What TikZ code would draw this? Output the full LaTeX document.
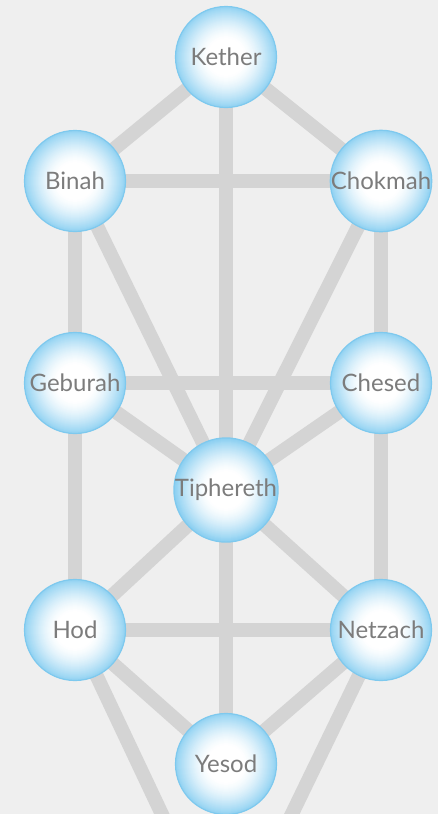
\documentclass[tikz,border=0pt]{standalone}
\usepackage{fontspec}
\setmainfont{Lato}
\usetikzlibrary{backgrounds}
\definecolor{bg}{HTML}{EFEFEF}
\definecolor{path}{HTML}{D4D4D4}
\definecolor{edgeblue}{HTML}{8ACFF1}
\definecolor{rimblue}{HTML}{7EC9EE}
\definecolor{txt}{HTML}{7C7C7C}
\tikzset{
  sephira/.style={circle, minimum size=101pt, inner sep=0pt, draw=rimblue, line width=1.2pt,
    text=txt, font=\fontsize{24}{24}\selectfont,
    path picture={
      \foreach \r in {52,51,...,18}{
        \pgfmathtruncatemacro\p{100*((\r-18)/34)^1.5}
        \fill[edgeblue!\p!white] (path picture bounding box.center) circle (\r pt);
      }
      \fill[white] (path picture bounding box.center) circle (18pt);
    }},
  pathline/.style={draw=path, line width=14pt}
}
\begin{document}
\begin{tikzpicture}[x=1pt,y=-1pt]
\useasboundingbox (0,0) rectangle (438,814);
\clip (0,0) rectangle (438,814);
\node[sephira] (kether) at (226,57) {Kether};
\node[sephira] (binah) at (75,181) {Binah};
\node[sephira] (chokmah) at (381,181) {Chokmah};
\node[sephira] (geburah) at (75,383) {Geburah};
\node[sephira] (chesed) at (381,383) {Chesed};
\node[sephira] (tiphereth) at (226,490) {Tiphereth};
\node[sephira] (hod) at (75,630) {Hod};
\node[sephira] (netzach) at (381,630) {Netzach};
\node[sephira] (yesod) at (226,764) {Yesod};
\coordinate (malkuth) at (226,950);
\begin{pgfonlayer}{background}
\fill[bg] (0,0) rectangle (438,814);
\foreach \a/\b in {kether/binah, kether/chokmah, kether/tiphereth, binah/chokmah,
  binah/geburah, binah/tiphereth, chokmah/chesed, chokmah/tiphereth,
  geburah/chesed, geburah/tiphereth, chesed/tiphereth, geburah/hod,
  chesed/netzach, tiphereth/hod, tiphereth/netzach, tiphereth/yesod,
  hod/netzach, hod/yesod, netzach/yesod, hod/malkuth, netzach/malkuth}
  \draw[pathline] (\a.center) -- (\b.center);
\end{pgfonlayer}
\end{tikzpicture}
\end{document}
